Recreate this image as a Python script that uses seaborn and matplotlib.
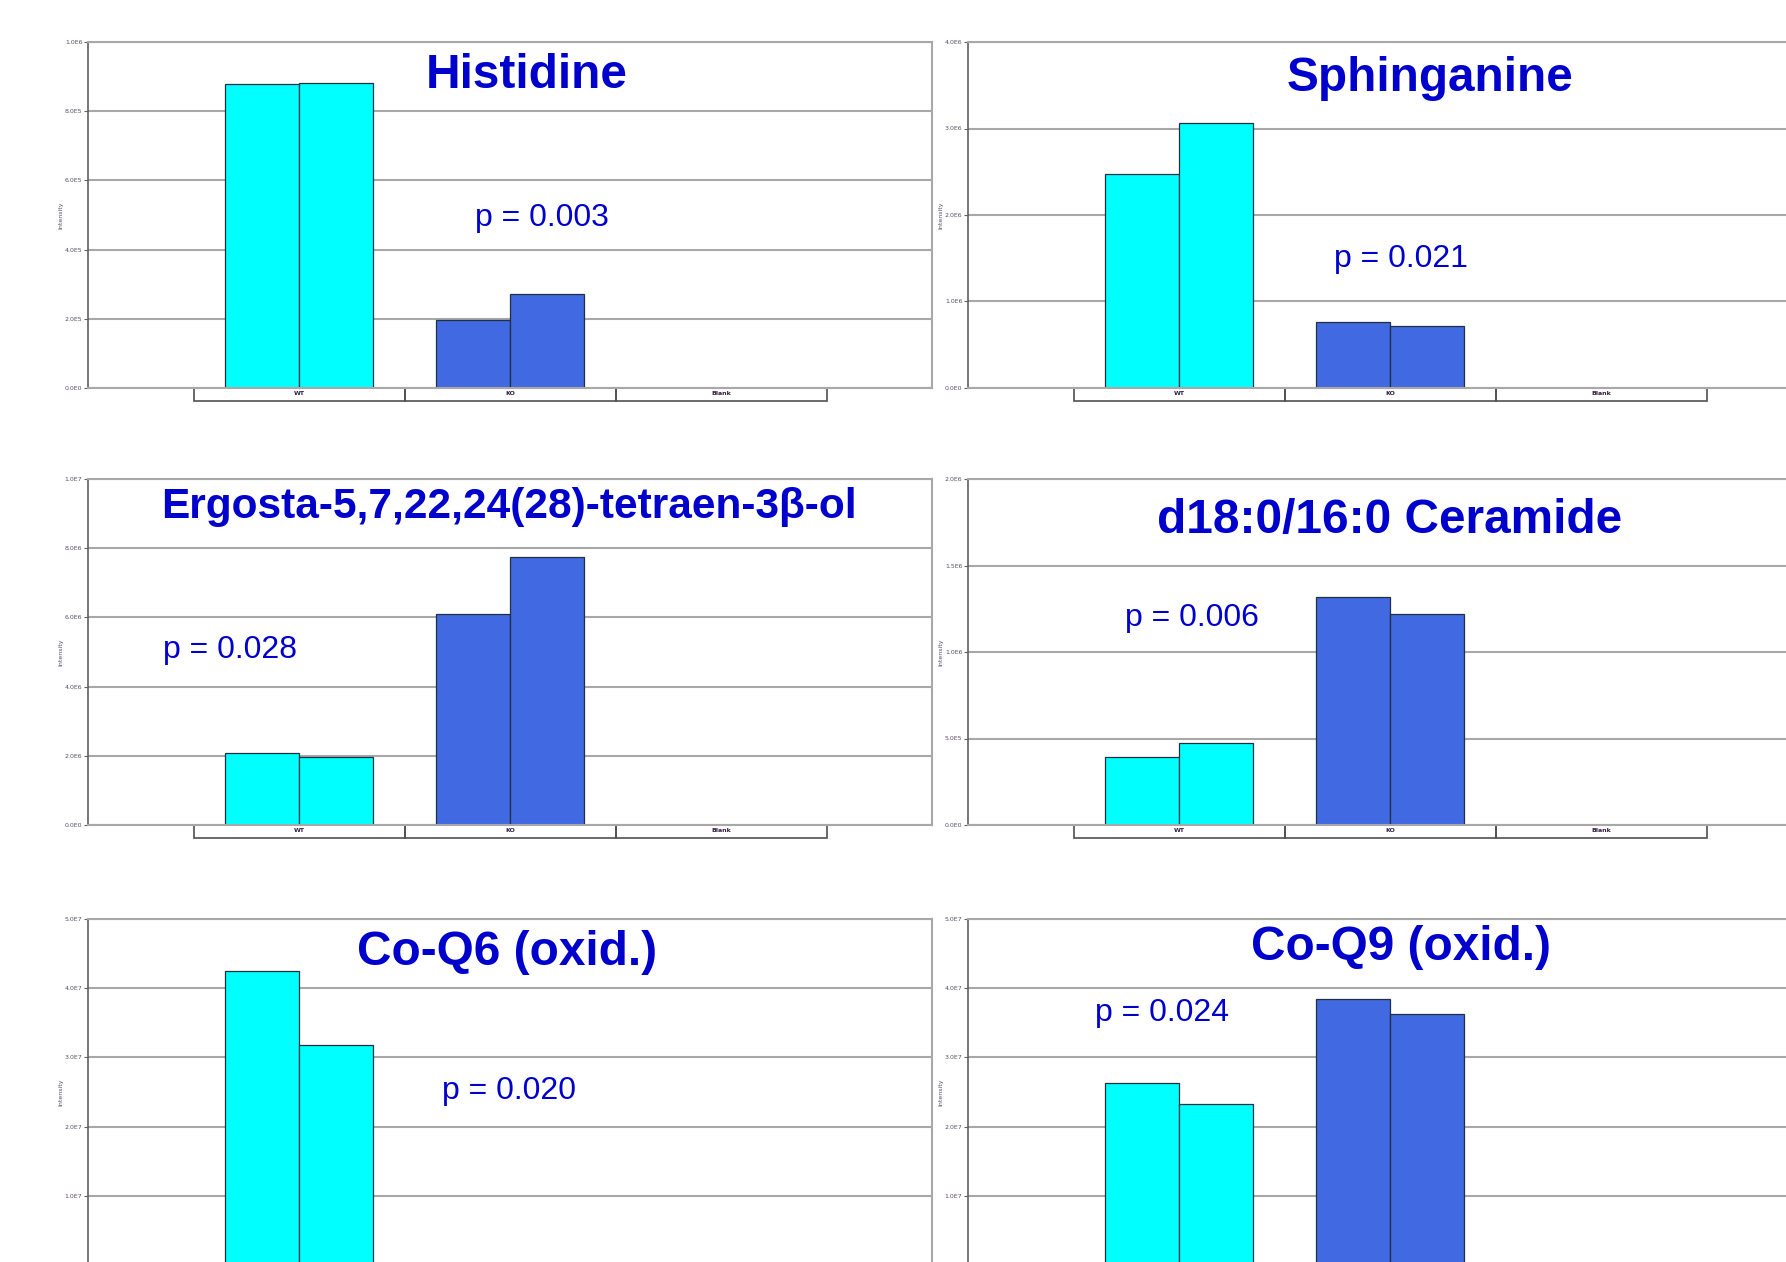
import numpy as np
import pandas as pd
import seaborn as sns
import matplotlib.pyplot as plt
import matplotlib.transforms as mtransforms
from matplotlib.patches import Rectangle
from matplotlib.ticker import FuncFormatter

# groups on the x axis, two replicate bars each
groups = ["WT", "KO", "Blank"]
group_colors = ["#00ffff", "#4169e1", "#4169e1"]

histidine_rep1 = [8.80e5, 1.97e5, 0.0]
histidine_rep2 = [8.82e5, 2.73e5, 0.0]
sphinganine_rep1 = [2.47e6, 0.76e6, 0.0]
sphinganine_rep2 = [3.06e6, 0.72e6, 0.0]
ergosta_rep1 = [2.07e6, 6.09e6, 0.0]
ergosta_rep2 = [1.97e6, 7.76e6, 0.0]
ceramide_rep1 = [0.395e6, 1.32e6, 0.0]
ceramide_rep2 = [0.474e6, 1.22e6, 0.0]
coq6_rep1 = [4.25e7, 1.5e5, 0.0]
coq6_rep2 = [3.18e7, 2.0e5, 0.0]
coq9_rep1 = [2.63e7, 3.85e7, 0.0]
coq9_rep2 = [2.32e7, 3.62e7, 0.0]

titles = ["Histidine", "Sphinganine", "Ergosta-5,7,22,24(28)-tetraen-3\u03b2-ol",
          "d18:0/16:0 Ceramide", "Co-Q6 (oxid.)", "Co-Q9 (oxid.)"]
p_labels = ["p = 0.003", "p = 0.021", "p = 0.028", "p = 0.006", "p = 0.020", "p = 0.024"]
y_max = [1.0e6, 4.0e6, 1.0e7, 2.0e6, 5.0e7, 5.0e7]
y_step = [2.0e5, 1.0e6, 2.0e6, 5.0e5, 1.0e7, 1.0e7]
series = [(histidine_rep1, histidine_rep2), (sphinganine_rep1, sphinganine_rep2),
          (ergosta_rep1, ergosta_rep2), (ceramide_rep1, ceramide_rep2),
          (coq6_rep1, coq6_rep2), (coq9_rep1, coq9_rep2)]

# layout (axes fractions) for title and p-value text
title_pos = [(0.52, 0.902), (0.547, 0.895), (0.499, 0.919), (0.50, 0.879), (0.497, 0.902), (0.513, 0.919)]
title_size = [34.4, 34.4, 30.5, 34.4, 34.4, 34.4]
p_pos = [(0.538, 0.49), (0.513, 0.373), (0.168, 0.506), (0.265, 0.598), (0.499, 0.503), (0.23, 0.727)]

W, H = 1786, 1262
fig = plt.figure(figsize=(W / 100, H / 100), dpi=100)
col_left = [88 / W, 968 / W]
ax_w = 844 / W
ax_h = 346 / H
row_bottom = [1 - 388 / H, 1 - 825 / H, 1 - 1265 / H]

title_color = "#0000cc"
tick_color = "#5a5068"


def sci_fmt(v, pos):
    if v == 0:
        return "0.0E0"
    e = int(np.floor(np.log10(abs(v)) + 1e-9))
    return f"{v / 10 ** e:.1f}E{e}"


for i in range(6):
    r, c = divmod(i, 2)
    ax = fig.add_axes([col_left[c], row_bottom[r], ax_w, ax_h])
    rep1, rep2 = series[i]
    df = pd.DataFrame({
        "group": groups * 2,
        "rep": ["1"] * 3 + ["2"] * 3,
        "value": rep1 + rep2,
    })
    sns.barplot(data=df, x="group", y="value", hue="rep", order=groups,
                width=0.7, ax=ax, legend=False, errorbar=None,
                edgecolor="#203040", linewidth=0.9, saturation=1)
    for cont in ax.containers:
        for j, bar in enumerate(cont):
            bar.set_facecolor(group_colors[j])

    ax.set_xlim(-1, 3)
    ax.set_ylim(0, y_max[i])
    bottom_row = r == 2
    start = y_step[i] if bottom_row else 0
    ax.set_yticks(np.arange(start, y_max[i] + y_step[i] / 2, y_step[i]))
    ax.yaxis.set_major_formatter(FuncFormatter(sci_fmt))
    ax.yaxis.grid(True, color="#a8a8a8", lw=1.5)
    ax.set_axisbelow(True)
    for s in ["top", "right", "bottom"]:
        ax.spines[s].set_color("#a8a8a8")
        ax.spines[s].set_linewidth(1.5)
    ax.spines["left"].set_color("#606060")
    ax.spines["left"].set_linewidth(1.2)
    ax.tick_params(axis="y", labelsize=4.5, labelcolor=tick_color, length=3,
                   width=0.8, color="#606060", pad=1)
    ax.set_ylabel("Intensity", fontsize=4.5, color=tick_color, labelpad=1)
    ax.set_xlabel("")

    # category boxes under the axis (the bottom row runs off the page)
    if bottom_row:
        ax.set_xticks([])
    else:
        ax.set_xticks(range(len(groups)))
        ax.set_xticklabels(groups, fontsize=4.5, fontweight="bold", color="#302040")
        ax.tick_params(axis="x", length=0, pad=2.5)
        trans = mtransforms.blended_transform_factory(ax.transData, ax.transAxes)
        box_h = 13 / 346
        for k in range(len(groups)):
            ax.add_patch(Rectangle((k - 0.5, -box_h), 1, box_h, transform=trans,
                                   fill=False, edgecolor="#505050", lw=1.2, clip_on=False))

    ax.text(*title_pos[i], titles[i], transform=ax.transAxes, ha="center", va="center",
            fontsize=title_size[i], fontweight="bold", color=title_color,
            family="Liberation Sans")
    ax.text(*p_pos[i], p_labels[i], transform=ax.transAxes, ha="center", va="center",
            fontsize=23, color=title_color, family="Liberation Sans")

fig.savefig("out.png", dpi=100)
